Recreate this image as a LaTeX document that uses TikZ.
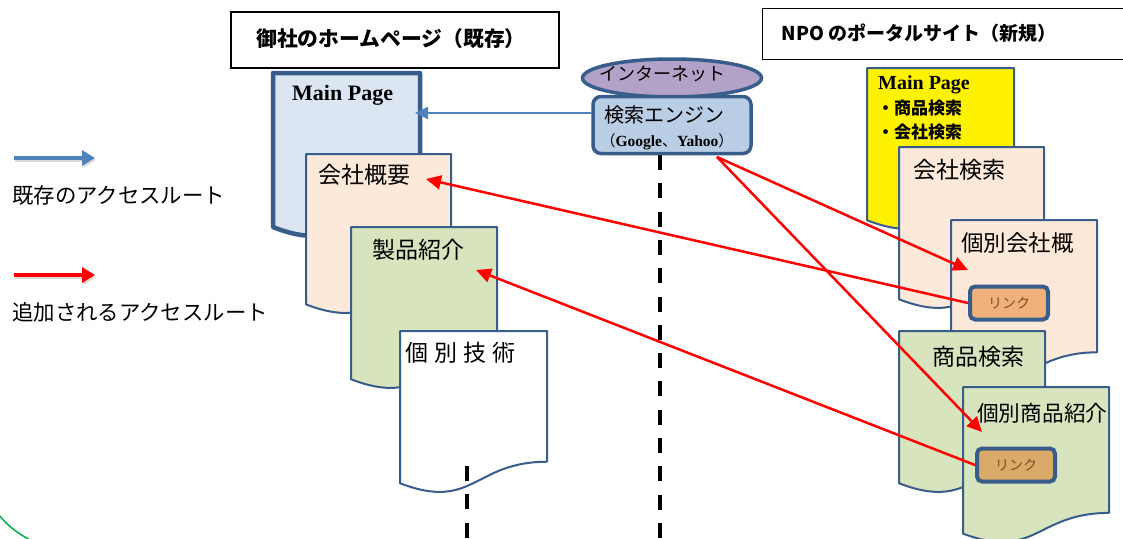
\documentclass[tikz,border=0pt]{standalone}
\usepackage{fontspec}
\newfontfamily\jp{Noto Sans CJK JP}
\newfontfamily\lserif{Liberation Serif}
\usetikzlibrary{shapes.geometric,arrows.meta,calc}
\definecolor{docb}{RGB}{56,93,138}
\definecolor{fblue}{RGB}{220,230,242}
\definecolor{fpeach}{RGB}{253,233,217}
\definecolor{fgreen}{RGB}{215,228,189}
\definecolor{fpurple}{RGB}{179,162,199}
\definecolor{fsearch}{RGB}{185,205,229}
\definecolor{flinkA}{RGB}{240,176,122}
\definecolor{flinkB}{RGB}{218,170,105}
\definecolor{linktxt}{RGB}{120,80,40}
\definecolor{arrblue}{RGB}{79,129,189}
\definecolor{arcgreen}{RGB}{0,176,80}
\newcommand\docshape[6]{%
  \draw[draw=docb, fill=#1, line width=#2, line join=round]
    (#3,#4) -- ({#3+#5},#4) -- ({#3+#5},{#4+0.802*#6})
    .. controls ({#3+0.5*#5},{#4+0.802*#6}) and ({#3+0.5*#5},{#4+1.107*#6}) ..
    (#3,{#4+0.934*#6}) -- cycle;}
\tikzset{
  titlebox/.style={draw=black, line width=1.2pt, inner sep=0pt},
  jptitle/.style={font=\jp\bfseries\fontsize{20.8}{24}\selectfont, inner sep=0pt},
  jpdoc/.style={font=\jp\fontsize{23}{28}\selectfont, inner sep=0pt, anchor=west},
  jpleg/.style={font=\jp\fontsize{21.4}{24}\selectfont, inner sep=0pt, anchor=west},
  redarr/.style={draw=red, line width=2.5pt, -{Triangle[length=15pt,width=14pt]}},
  bluearr/.style={draw=arrblue, line width=2pt, -{Triangle[length=13pt,width=12pt]}},
  legarr/.style={line width=4pt, -{Triangle[length=13pt,width=15pt]}},
  vdash/.style={draw=black, line width=4pt, dash pattern=on 15pt off 13.3pt},
  linkbox/.style={draw=docb, line width=4pt, rounded corners=5pt, minimum width=78pt,
    minimum height=33pt, inner sep=0pt, font=\jp\fontsize{14}{16}\selectfont, text=linktxt},
}
\begin{document}
\begin{tikzpicture}[x=1pt,y=-1pt]
\useasboundingbox (0,0) rectangle (1123,538);
\fill[white] (0,0) rectangle (1123,538);
% green arc
\draw[arcgreen, line width=1.5pt] (0,516) .. controls (8,526) and (17,533) .. (32,541);
% titles
\node[titlebox, minimum width=328pt, minimum height=56pt] (boxL) at (395,40) {};
\node[jptitle] (tL) at (391,39) {御社のホームページ（既存）};
\node[titlebox, minimum width=364pt, minimum height=51pt, anchor=north west] (boxR) at (762,8) {};
\node[jptitle, font=\jp\bfseries\fontsize{19}{22}\selectfont] (tR) at (919,33) {NPO のポータルサイト（新規）};
% legend
\coordinate (lb1) at (14,158); \coordinate (lb2) at (95,158);
\coordinate (lr1) at (14,275); \coordinate (lr2) at (95,275);
\draw[legarr, draw=black!15] ($(lb1)+(1,2)$) -- ($(lb2)+(1,2)$);
\draw[legarr, draw=arrblue] (lb1) -- (lb2);
\draw[legarr, draw=black!15] ($(lr1)+(1,2)$) -- ($(lr2)+(1,2)$);
\draw[legarr, draw=red] (lr1) -- (lr2);
\node[jpleg] (legA) at (12,195) {既存のアクセスルート};
\node[jpleg] (legB) at (12,312) {追加されるアクセスルート};
% left documents
\docshape{fblue}{4.5pt}{273}{73}{147}{165}
\node[inner sep=0pt, anchor=west, font=\lserif\bfseries\fontsize{22}{24}\selectfont] (mpL) at (292,95) {Main Page};
\docshape{fpeach}{2pt}{306}{154}{145}{161}
\node[jpdoc] (kaisha) at (318,175) {会社概要};
\docshape{fgreen}{2pt}{351}{227}{146}{163}
\node[jpdoc] (seihin) at (372,250) {製品紹介};
\docshape{white}{2pt}{400}{331}{147}{163}
\node[jpdoc, font=\jp\fontsize{23}{28}\selectfont] (gijutsu) at (405,353) {個\hspace{6pt}別\hspace{6pt}技\hspace{6pt}術};
% dashed lines
\coordinate (d1a) at (660,155); \coordinate (d1b) at (660,540);
\coordinate (d2a) at (467,466); \coordinate (d2b) at (467,540);
\draw[vdash] (d1a) -- (d1b);
\draw[vdash] (d2a) -- (d2b);
% internet and search engine
\node[ellipse, draw=docb, line width=3.5pt, fill=fpurple, minimum width=179pt, minimum height=38pt, inner sep=0pt] (inet) at (672,78) {};
\node[font=\jp\fontsize{18}{20}\selectfont, inner sep=0pt] (inettxt) at (662,74) {インターネット};
\node[draw=docb, line width=3.5pt, fill=fsearch, rounded corners=8pt, minimum width=158pt, minimum height=57pt, inner sep=0pt] (se) at (672,125) {};
\node[jpdoc, font=\jp\fontsize{20}{24}\selectfont] (setxt) at (604,115) {検索エンジン};
\node[inner sep=0pt, font=\jp\fontsize{15}{17}\selectfont] (setxt2) at (667,142) {（{\lserif\bfseries\fontsize{15.5}{17}\selectfont Google}、{\lserif\bfseries\fontsize{15.5}{17}\selectfont Yahoo}）};
% right documents
\docshape{yellow}{2pt}{867}{68}{147}{163}
\node[inner sep=0pt, anchor=west, font=\lserif\bfseries\fontsize{20}{22}\selectfont] (mpR) at (878,85) {Main Page};
\node[inner sep=0pt, anchor=west, font=\jp\bfseries\fontsize{17}{20}\selectfont] (mpR2) at (877,108) {・商品検索};
\node[inner sep=0pt, anchor=west, font=\jp\bfseries\fontsize{17}{20}\selectfont] (mpR3) at (877,132) {・会社検索};
\docshape{fpeach}{2pt}{899}{147}{145}{163}
\node[jpdoc] (kensakuK) at (913,170) {会社検索};
\docshape{fpeach}{2pt}{951}{220}{146}{165}
\node[jpdoc, font=\jp\fontsize{22.5}{26}\selectfont] (kobetsuK) at (961,243) {個別会社概};
\node[linkbox, fill=flinkA] (link1) at (1009,303) {リンク};
\docshape{fgreen}{2pt}{899}{331}{146}{163}
\node[jpdoc] (kensakuS) at (932,357) {商品検索};
\docshape{fgreen}{2pt}{963}{387}{146}{157}
\node[jpdoc, font=\jp\fontsize{21.7}{26}\selectfont] (kobetsuS) at (977,413) {個別商品紹介};
\node[linkbox, fill=flinkB] (link2) at (1016,465) {リンク};
% arrows
\coordinate (mainIn) at (415,113);
\coordinate (seLeft) at (592,113);
\draw[bluearr] (seLeft) -- (mainIn);
\coordinate (seOut) at (717,157);
\coordinate (tipK) at (968,270);
\coordinate (tipS) at (982,432);
\coordinate (tipA) at (426,179);
\coordinate (tipB) at (476,270);
\draw[redarr] (seOut) -- (tipK);
\draw[redarr] (seOut) -- (tipS);
\draw[redarr] (link1.west) -- (tipA);
\draw[redarr] (link2.west) -- (tipB);
\end{tikzpicture}
\end{document}
